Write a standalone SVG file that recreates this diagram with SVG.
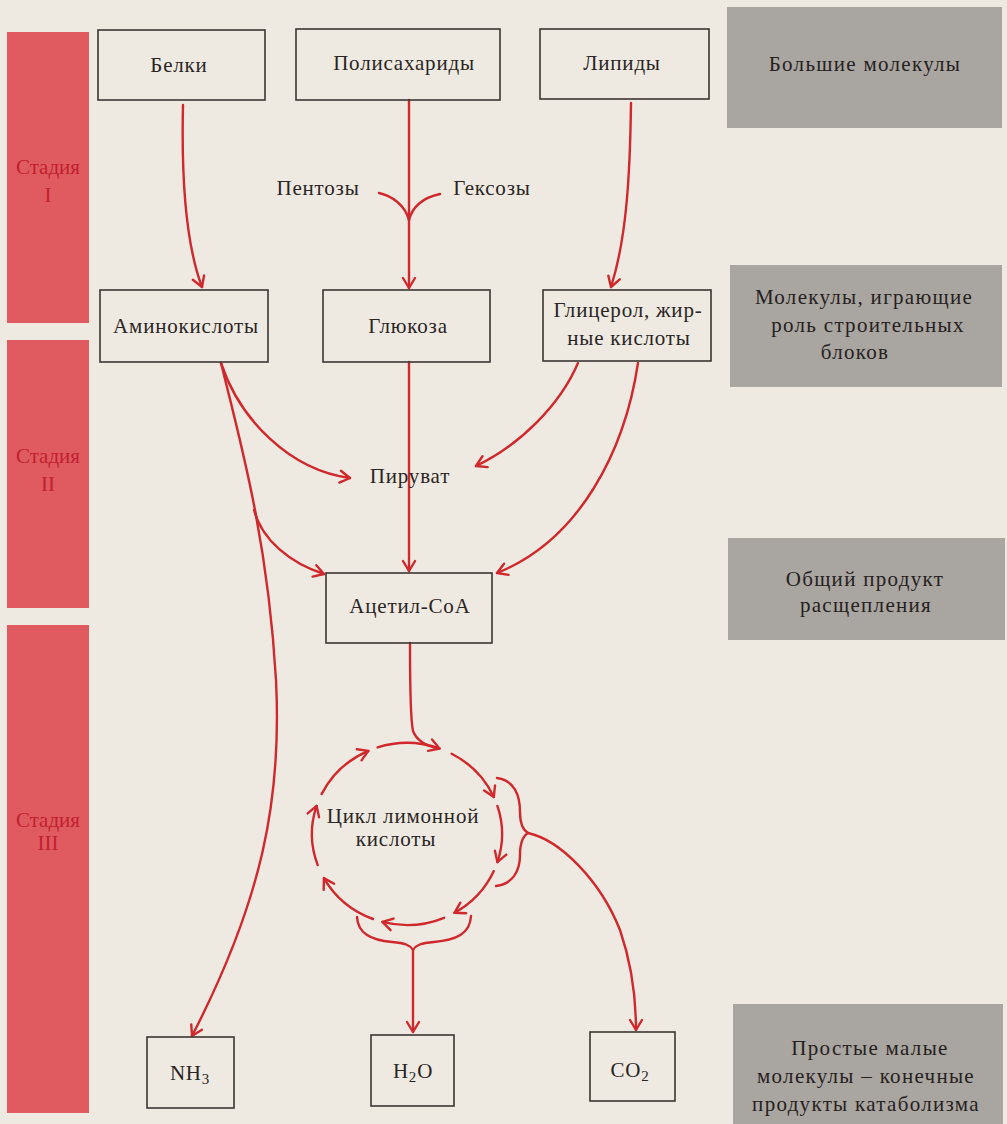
<svg xmlns="http://www.w3.org/2000/svg" width="1007" height="1124" viewBox="0 0 1007 1124">
<defs>
<style>
.bg{fill:#eeeae2}
.stage{fill:#df5b5f}
.stxt{font-family:"Liberation Serif","DejaVu Serif",serif;font-size:21px;fill:#c21f30;text-anchor:middle}
.box{fill:none;stroke:#3b3632;stroke-width:1.6}
.gray{fill:#a9a5a0}
.t{font-family:"Liberation Serif","DejaVu Serif",serif;font-size:21px;fill:#2a2522;text-anchor:middle;letter-spacing:0.8px}
.g{font-family:"Liberation Serif","DejaVu Serif",serif;font-size:21px;fill:#252120;text-anchor:middle;letter-spacing:1.3px}
.c{fill:none;stroke:#d0282c;stroke-width:2.4;stroke-linecap:round}
</style>
<marker id="ah" viewBox="-12 -8 14 16" refX="0" refY="0" markerWidth="14" markerHeight="16" markerUnits="userSpaceOnUse" orient="auto">
<path d="M-10,-6 L0,0 L-10,6" fill="none" stroke="#d0282c" stroke-width="2.4" stroke-linecap="round" stroke-linejoin="round"/>
</marker>
</defs>
<rect class="bg" x="0" y="0" width="1007" height="1124"/>

<g id="stage1"><rect class="stage" x="7" y="32" width="82" height="291"/><text class="stxt" x="48" y="174">Стадия</text><text class="stxt" x="48" y="202">I</text></g>
<g id="stage2"><rect class="stage" x="7" y="340" width="82" height="268"/><text class="stxt" x="48" y="463">Стадия</text><text class="stxt" x="48" y="491">II</text></g>
<g id="stage3"><rect class="stage" x="7" y="625" width="82" height="488"/><text class="stxt" x="48" y="827">Стадия</text><text class="stxt" x="48" y="850">III</text></g>

<g id="legend-big"><rect class="gray" x="727" y="7" width="275" height="121"/><text class="g" x="865" y="71">Большие молекулы</text></g>
<g id="legend-blocks"><rect class="gray" x="730" y="265" width="272" height="122"/><text class="g" x="864" y="304">Молекулы, играющие</text><text class="g" x="868" y="332">роль строительных</text><text class="g" x="855" y="359">блоков</text></g>
<g id="legend-common"><rect class="gray" x="728" y="538" width="277" height="102"/><text class="g" x="865" y="586">Общий продукт</text><text class="g" x="866" y="612">расщепления</text></g>
<g id="legend-simple"><rect class="gray" x="733" y="1004" width="270" height="120"/><text class="g" x="870" y="1055">Простые малые</text><text class="g" x="866" y="1083">молекулы – конечные</text><text class="g" x="866" y="1111">продукты катаболизма</text></g>

<g id="connectors">
<path class="c" d="M183,105 C181,190 188,250 202,287" marker-end="url(#ah)"/>
<path class="c" d="M409,100 L409,288" marker-end="url(#ah)"/>
<path class="c" d="M379,193 C392,196 405,205 409,220"/>
<path class="c" d="M440,194 C426,197 413,205 409,220"/>
<path class="c" d="M631,103 C630,180 626,240 611,287" marker-end="url(#ah)"/>
<path class="c" d="M221,363 C240,420 290,470 350,478" marker-end="url(#ah)"/>
<path class="c" d="M221,363 C240,440 268,540 276,680 C282,800 262,900 192,1036" marker-end="url(#ah)"/>
<path class="c" d="M254,510 C262,540 290,563 324,574" marker-end="url(#ah)"/>
<path class="c" d="M409,362 L409,571" marker-end="url(#ah)"/>
<path class="c" d="M578,363 C560,405 520,445 476,466" marker-end="url(#ah)"/>
<path class="c" d="M638,363 C625,450 580,540 497,573" marker-end="url(#ah)"/>
<path class="c" d="M410,643 C410,690 411,722 413,731 Q418,744 437,748"/>
<path class="c" d="M321.6,794.1 A95,91 0 0 1 368.4,750.9" marker-end="url(#ah)"/>
<path class="c" d="M377.6,747.4 A95,91 0 0 1 439.5,748.5" marker-end="url(#ah)"/>
<path class="c" d="M451.6,753.7 A95,91 0 0 1 493.8,797.0" marker-end="url(#ah)"/>
<path class="c" d="M497.4,805.9 A95,91 0 0 1 497.4,862.1" marker-end="url(#ah)"/>
<path class="c" d="M493.8,871.0 A95,91 0 0 1 454.5,912.8" marker-end="url(#ah)"/>
<path class="c" d="M444.1,917.8 A95,91 0 0 1 382.4,921.9" marker-end="url(#ah)"/>
<path class="c" d="M373.0,919.0 A95,91 0 0 1 323.9,878.1" marker-end="url(#ah)"/>
<path class="c" d="M317.7,865.1 A95,91 0 0 1 316.6,805.9" marker-end="url(#ah)"/>
<path class="c" d="M497,778 C514,780 520,795 520,812 C520,825 523,830 528,833 C523,836 520,842 520,855 C520,872 512,884 496,886"/>
<path class="c" d="M528,833 C560,840 600,880 620,930 C632,965 636,1000 636,1030" marker-end="url(#ah)"/>
<path class="c" d="M357,917 C358,933 370,940 392,942 C405,943 410,945 413,950 C416,945 421,943 434,942 C456,940 470,934 471,916"/>
<path class="c" d="M413,950 L413,1032" marker-end="url(#ah)"/>
</g>

<g id="n-belki"><rect class="box" x="98" y="30" width="167" height="70"/><text class="t" x="179" y="72">Белки</text></g>
<g id="n-poly"><rect class="box" x="296" y="29" width="204" height="71"/><text class="t" x="404" y="70">Полисахариды</text></g>
<g id="n-lipids"><rect class="box" x="540" y="29" width="169" height="70"/><text class="t" x="622" y="70">Липиды</text></g>
<g id="n-pentoses"><text class="t" x="318" y="195">Пентозы</text></g>
<g id="n-hexoses"><text class="t" x="492" y="195">Гексозы</text></g>
<g id="n-amino"><rect class="box" x="100" y="290" width="168" height="72"/><text class="t" x="186" y="333">Аминокислоты</text></g>
<g id="n-glucose"><rect class="box" x="323" y="290" width="167" height="72"/><text class="t" x="408" y="333">Глюкоза</text></g>
<g id="n-glycerol"><rect class="box" x="543" y="290" width="168" height="71"/><text class="t" x="628" y="317">Глицерол, жир-</text><text class="t" x="629" y="345">ные кислоты</text></g>
<g id="n-pyruvate"><text class="t" x="410" y="483">Пируват</text></g>
<g id="n-acetyl"><rect class="box" x="326" y="573" width="166" height="70"/><text class="t" x="410" y="613">Ацетил-СоА</text></g>
<g id="n-cycle"><text class="t" x="403" y="823">Цикл лимонной</text><text class="t" x="396" y="846">кислоты</text></g>
<g id="n-nh3"><rect class="box" x="147" y="1037" width="87" height="71"/><text class="t" x="190" y="1080">NH<tspan font-size="15" dy="4">3</tspan></text></g>
<g id="n-h2o"><rect class="box" x="371" y="1035" width="83" height="71"/><text class="t" x="413" y="1078">H<tspan font-size="15" dy="4">2</tspan><tspan dy="-4">O</tspan></text></g>
<g id="n-co2"><rect class="box" x="590" y="1032" width="85" height="69"/><text class="t" x="630" y="1077">CO<tspan font-size="15" dy="4">2</tspan></text></g>
</svg>
